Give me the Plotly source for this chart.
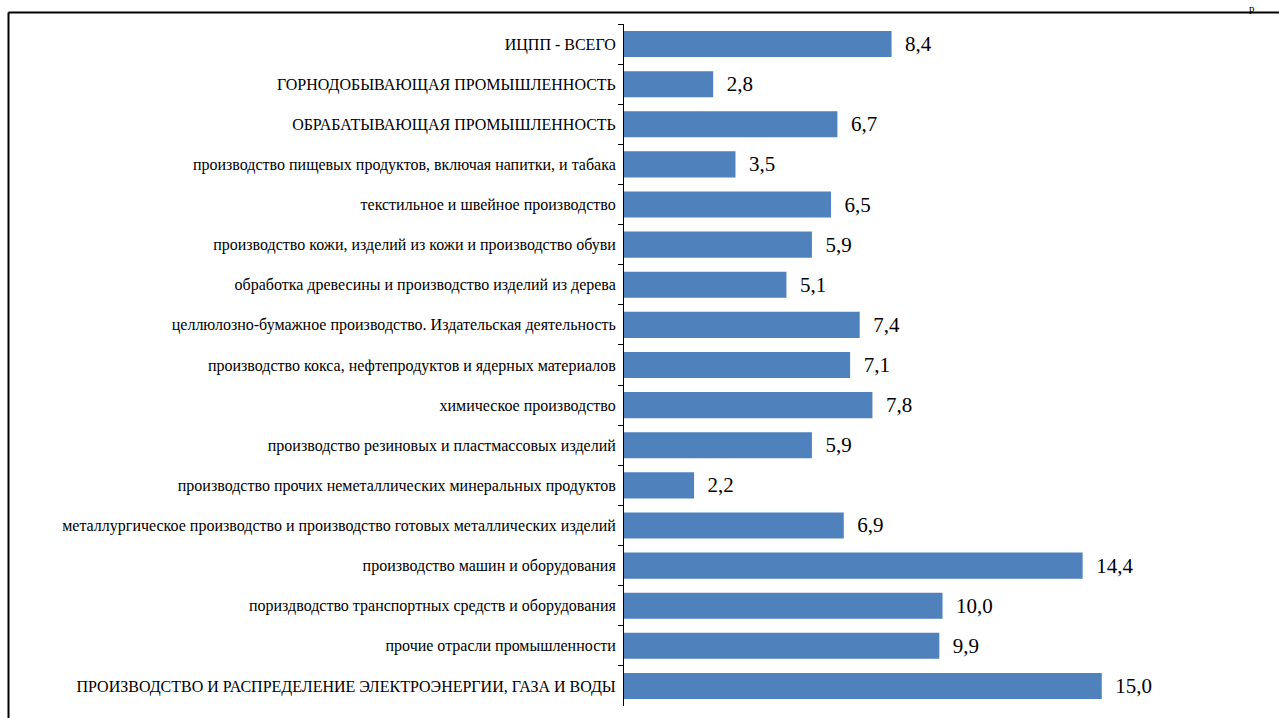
import plotly.graph_objects as go

categories = [
    "ИЦПП - ВСЕГО",
    "ГОРНОДОБЫВАЮЩАЯ ПРОМЫШЛЕННОСТЬ",
    "ОБРАБАТЫВАЮЩАЯ ПРОМЫШЛЕННОСТЬ",
    "производство пищевых продуктов, включая напитки, и табака",
    "текстильное и швейное производство",
    "производство кожи, изделий из кожи и производство обуви",
    "обработка древесины и производство изделий из дерева",
    "целлюлозно-бумажное производство. Издательская деятельность",
    "производство кокса, нефтепродуктов и ядерных материалов",
    "химическое производство",
    "производство резиновых и пластмассовых изделий",
    "производство прочих неметаллических минеральных продуктов",
    "металлургическое производство и производство готовых металлических изделий",
    "производство машин и оборудования",
    "пориздводство транспортных средств и оборудования",
    "прочие отрасли промышленности",
    "ПРОИЗВОДСТВО И РАСПРЕДЕЛЕНИЕ ЭЛЕКТРОЭНЕРГИИ, ГАЗА И ВОДЫ",
]
values = [8.4, 2.8, 6.7, 3.5, 6.5, 5.9, 5.1, 7.4, 7.1, 7.8, 5.9, 2.2, 6.9, 14.4, 10.0, 9.9, 15.0]

SERIF = "Liberation Serif"

W, H = 1279, 718
ML, MR, MT, MB = 624, 18, 24, 12
PW, PH = W - ML - MR, H - MT - MB

fig = go.Figure(go.Bar(
    x=values,
    y=categories,
    orientation="h",
    marker=dict(color="#4F81BD", line=dict(width=0)),
    texttemplate="\u00a0\u00a0%{x:.1f}",
    textposition="outside",
    textfont=dict(family=SERIF, size=21, color="#000000"),
    cliponaxis=False,
    hoverinfo="skip",
))

fig.update_layout(
    width=W, height=H,
    margin=dict(l=ML, r=MR, t=MT, b=MB, pad=0),
    paper_bgcolor="white",
    plot_bgcolor="white",
    bargap=0.35,
    separators=", ",
    showlegend=False,
    font=dict(family=SERIF, color="#000000"),
    xaxis=dict(
        range=[0, 20],
        visible=False,
        showgrid=False,
        zeroline=False,
    ),
    yaxis=dict(
        autorange="reversed",
        showline=True,
        linecolor="#000000",
        linewidth=1,
        ticks="outside",
        ticklen=5,
        tickcolor="#000000",
        tickson="boundaries",
        showgrid=False,
        tickfont=dict(family=SERIF, size=16, color="#000000"),
        ticklabelstandoff=4,
    ),
    shapes=[
        dict(type="line", xref="paper", yref="paper",
             x0=-(ML - 8.5) / PW, x1=(W - ML) / PW,
             y0=1 + (MT - 12.5) / PH, y1=1 + (MT - 12.5) / PH,
             line=dict(color="#000000", width=2)),
        dict(type="line", xref="paper", yref="paper",
             x0=-(ML - 8.5) / PW, x1=-(ML - 8.5) / PW,
             y0=1 + (MT - 12.5) / PH, y1=-MB / PH,
             line=dict(color="#000000", width=2)),
    ],
    annotations=[
        dict(text="р", xref="paper", yref="paper",
             x=(1252 - ML) / PW, y=1 + MT / PH,
             xanchor="center", yanchor="top", showarrow=False,
             font=dict(family=SERIF, size=11, color="#000000")),
    ],
)

fig.write_html("out.html")
